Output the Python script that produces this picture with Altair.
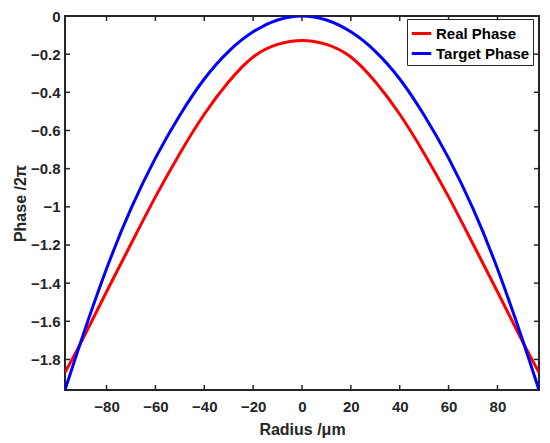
import altair as alt
import pandas as pd

# Radius positions (um) at which the curves were read
radius = [-97, -90, -80, -70, -60, -50, -40, -30, -20, -10, 0,
          10, 20, 30, 40, 50, 60, 70, 80, 90, 97]
# Real phase (/2pi)
real_phase = [-1.868, -1.700, -1.445, -1.195, -0.948, -0.720, -0.515, -0.345, -0.215, -0.149, -0.128,
              -0.149, -0.215, -0.345, -0.515, -0.720, -0.948, -1.195, -1.445, -1.700, -1.868]
# Target phase (/2pi)
target_phase = [-1.960, -1.687, -1.325, -1.010, -0.745, -0.520, -0.330, -0.185, -0.083, -0.021, 0.0,
                -0.021, -0.083, -0.185, -0.330, -0.520, -0.745, -1.010, -1.325, -1.687, -1.960]

series_names = ["Real Phase", "Target Phase"]
series_colors = ["#ff0000", "#0000ff"]

x_ticks = [-80, -60, -40, -20, 0, 20, 40, 60, 80]
y_ticks = [0, -0.2, -0.4, -0.6, -0.8, -1, -1.2, -1.4, -1.6, -1.8]

x_domain = [-97, 97]
y_domain = [-1.96, 0]

W, H = 474, 374
FONT = "Liberation Sans"
AX = "#262626"
TL = 5
LABEL_EXPR = "(datum.value < 0 ? '\u2212' : '') + format(abs(datum.value), '~g')"

rows = []
for r, v in zip(radius, real_phase):
    rows.append({"r": r, "phase": v, "series": series_names[0]})
for r, v in zip(radius, target_phase):
    rows.append({"r": r, "phase": v, "series": series_names[1]})
df = pd.DataFrame(rows)

xscale = alt.Scale(domain=x_domain, nice=False, zero=False)
yscale = alt.Scale(domain=y_domain, nice=False, zero=False)

lines = alt.Chart(df).mark_line(strokeWidth=3, interpolate="natural", clip=True).encode(
    x=alt.X("r:Q", scale=xscale,
            axis=alt.Axis(values=x_ticks, title="Radius /μm", ticks=False, domain=False,
                          labelExpr=LABEL_EXPR,
                          labelPadding=9, titlePadding=7, grid=False)),
    y=alt.Y("phase:Q", scale=yscale,
            axis=alt.Axis(values=y_ticks, title="Phase /2π", ticks=False, domain=False,
                          labelExpr=LABEL_EXPR,
                          labelPadding=5, titlePadding=2, grid=False)),
    color=alt.Color("series:N",
                    scale=alt.Scale(domain=series_names, range=series_colors),
                    legend=alt.Legend(title=None, orient="none", legendX=342, legendY=3,
                                      symbolType="stroke", symbolStrokeWidth=3, symbolSize=380,
                                      labelFont=FONT, labelFontWeight="bold", labelFontSize=15,
                                      labelColor="#000000", strokeColor=AX, fillColor="white",
                                      padding=3, rowPadding=0, labelOffset=3)),
)

xt = pd.DataFrame({"v": x_ticks})
yt = pd.DataFrame({"v": y_ticks})

bx = alt.Chart(xt).mark_rule(color=AX, strokeWidth=1.5).encode(
    x=alt.X("v:Q", scale=xscale), y=alt.value(H), y2=alt.value(H - TL))
tx = alt.Chart(xt).mark_rule(color=AX, strokeWidth=1.5).encode(
    x=alt.X("v:Q", scale=xscale), y=alt.value(0), y2=alt.value(TL))
ly = alt.Chart(yt).mark_rule(color=AX, strokeWidth=1.5).encode(
    y=alt.Y("v:Q", scale=yscale), x=alt.value(0), x2=alt.value(TL))
ry = alt.Chart(yt).mark_rule(color=AX, strokeWidth=1.5).encode(
    y=alt.Y("v:Q", scale=yscale), x=alt.value(W), x2=alt.value(W - TL))

chart = alt.layer(lines, bx, tx, ly, ry).properties(
    width=W, height=H,
    autosize=alt.AutoSizeParams(type="none"),
    padding={"left": 57, "top": 8, "right": 3, "bottom": 50},
).configure_view(
    stroke=AX, strokeWidth=2
).configure_axis(
    labelFont=FONT, labelFontWeight="bold", labelFontSize=15, labelColor=AX,
    titleFont=FONT, titleFontWeight="bold", titleFontSize=16, titleColor=AX,
)

chart.save("out.html", embed_options={"renderer": "svg", "actions": False})
